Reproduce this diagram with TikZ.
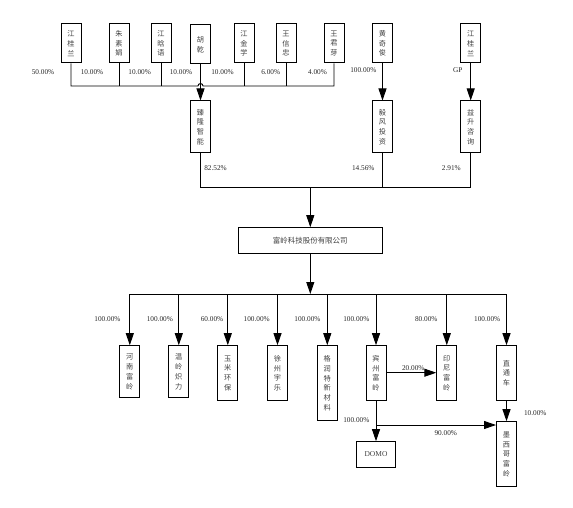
\documentclass[tikz,border=0pt]{standalone}
\usepackage{fontspec}
\setmainfont{Liberation Serif}
\newfontfamily\cjk{Noto Sans CJK SC}
\usetikzlibrary{arrows.meta}
\tikzset{
  vbox/.style={draw, line width=1bp, inner sep=0pt, minimum width=20bp, align=center,
    text=black!75, font=\cjk\fontsize{7.2}{9.8}\selectfont},
  hbox/.style={draw, line width=1bp, inner sep=0pt, align=center,
    text=black!75, font=\cjk\fontsize{7.5}{9}\selectfont},
  pct/.style={inner sep=0pt, text=black!85, font=\fontsize{7.3}{8}\selectfont},
  ln/.style={line width=0.9bp},
  arr/.style={line width=0.9bp, -{Triangle[length=12bp,width=8bp]}},
}
\begin{document}
\begin{tikzpicture}[x=1bp,y=-1bp]
\useasboundingbox (0,0) rectangle (573,508);
% top shareholders
\node[vbox, minimum height=39bp] (p1) at (71,43.5) {江\\桂\\兰};
\node[vbox, minimum height=39bp] (p2) at (119,43.5) {朱\\素\\娟};
\node[vbox, minimum height=39bp] (p3) at (161,43.5) {江\\晗\\语};
\node[vbox, minimum height=39bp] (p4) at (200.5,44.5) {胡\\乾};
\node[vbox, minimum height=39bp] (p5) at (244,43.5) {江\\金\\学};
\node[vbox, minimum height=39bp] (p6) at (286,43.5) {王\\信\\忠};
\node[vbox, minimum height=39bp] (p7) at (334,43.5) {王\\君\\芽};
\node[vbox, minimum height=39bp] (p8) at (382.5,43.5) {黄\\奇\\俊};
\node[vbox, minimum height=39bp] (p9) at (470.7,43.5) {江\\桂\\兰};
% middle holders
\node[vbox, minimum height=52bp] (m1) at (200.5,127) {臻\\隆\\智\\能};
\node[vbox, minimum height=52bp] (m2) at (382.5,127) {毅\\风\\投\\资};
\node[vbox, minimum height=52bp] (m3) at (470.7,127) {益\\升\\咨\\询};
% main company
\node[hbox, minimum width=144bp, minimum height=25.6bp] (main) at (310.3,240.5) {富岭科技股份有限公司};
% subsidiaries
\node[vbox, minimum height=52bp] (s1) at (129.8,371.7) {河\\南\\富\\岭};
\node[vbox, minimum height=52bp] (s2) at (178.8,371.7) {温\\岭\\炽\\力};
\node[vbox, minimum height=55.3bp] (s3) at (227.8,373.3) {玉\\米\\环\\保};
\node[vbox, minimum height=55.3bp] (s4) at (277.5,373.3) {徐\\州\\宇\\乐};
\node[vbox, minimum height=75bp] (s5) at (327.3,383.2) {格\\润\\特\\新\\材\\料};
\node[vbox, minimum height=55bp] (s6) at (376,373.2) {宾\\州\\富\\岭};
\node[vbox, minimum height=55bp] (s7) at (446.8,373.2) {印\\尼\\富\\岭};
\node[vbox, minimum height=55bp] (s8) at (506.5,373.2) {直\\通\\车};
\node[vbox, minimum height=65bp] (s9) at (506.5,454.2) {墨\\西\\哥\\富\\岭};
\node[hbox, minimum width=39bp, minimum height=25.6bp, font=\fontsize{7.5}{9}\selectfont] (s10) at (376,454.5) {DOMO};
% bus coordinates
\coordinate (bus1) at (0,86);
\coordinate (bus2) at (0,187.3);
\coordinate (bus3) at (0,294);
\coordinate (j1) at (376,425);
% bus 1
\draw[ln] (p1.south) -- (p1.south|-bus1) -- ([xshift=-2.5bp]p4.south|-bus1)
  arc[start angle=180,end angle=0,radius=2.5bp] -- (p7.south|-bus1) -- (p7.south);
\foreach \n in {p2,p3,p4,p5,p6} \draw[ln] (\n.south) -- (\n.south|-bus1);
\draw[arr] (p4.south|-bus1) -- (m1.north);
\draw[arr] (p8.south) -- (m2.north);
\draw[arr] (p9.south) -- (m3.north);
% bus 2
\draw[ln] (m1.south) -- (m1.south|-bus2) -- (m3.south|-bus2) -- (m3.south);
\draw[ln] (m2.south) -- (m2.south|-bus2);
\draw[arr] (main.north|-bus2) -- (main.north);
% bus 3
\draw[arr] (main.south) -- (main.south|-bus3);
\draw[ln] (s1.north|-bus3) -- (s8.north|-bus3);
\foreach \n in {s1,s2,s3,s4,s5,s6,s7,s8} \draw[arr] (\n.north|-bus3) -- (\n.north);
% lower links
\draw[arr] (s6.east|-0,372.7) -- (s7.west|-0,372.7);
\draw[arr] (s6.south) -- (s10.north);
\draw[arr] (j1) -- (s9.west|-j1);
\draw[arr] (s8.south) -- (s9.north);
% percentage labels
\node[pct] (l1) at (43,71.7) {50.00\%};
\node[pct] (l2) at (92,71.7) {10.00\%};
\node[pct] (l3) at (139.7,71.7) {10.00\%};
\node[pct] (l4) at (181,71.7) {10.00\%};
\node[pct] (l5) at (222.5,71.7) {10.00\%};
\node[pct] (l6) at (270.7,71.7) {6.00\%};
\node[pct] (l7) at (317.5,71.7) {4.00\%};
\node[pct] (l8) at (363.3,70) {100.00\%};
\node[pct] (l9) at (457.7,70) {GP};
\node[pct] (l10) at (215.5,168) {82.52\%};
\node[pct] (l11) at (363.3,168) {14.56\%};
\node[pct] (l12) at (451.3,168) {2.91\%};
\node[pct] (l13) at (107.5,319) {100.00\%};
\node[pct] (l14) at (159.8,319) {100.00\%};
\node[pct] (l15) at (212,319) {60.00\%};
\node[pct] (l16) at (256.7,319) {100.00\%};
\node[pct] (l17) at (307.5,319) {100.00\%};
\node[pct] (l18) at (356.3,319) {100.00\%};
\node[pct] (l19) at (426.3,319) {80.00\%};
\node[pct] (l20) at (487.2,319) {100.00\%};
\node[pct] (l21) at (413.3,367.7) {20.00\%};
\node[pct] (l22) at (356.3,420) {100.00\%};
\node[pct] (l23) at (445.8,433.3) {90.00\%};
\node[pct] (l24) at (535.3,412.7) {10.00\%};
\end{tikzpicture}
\end{document}
